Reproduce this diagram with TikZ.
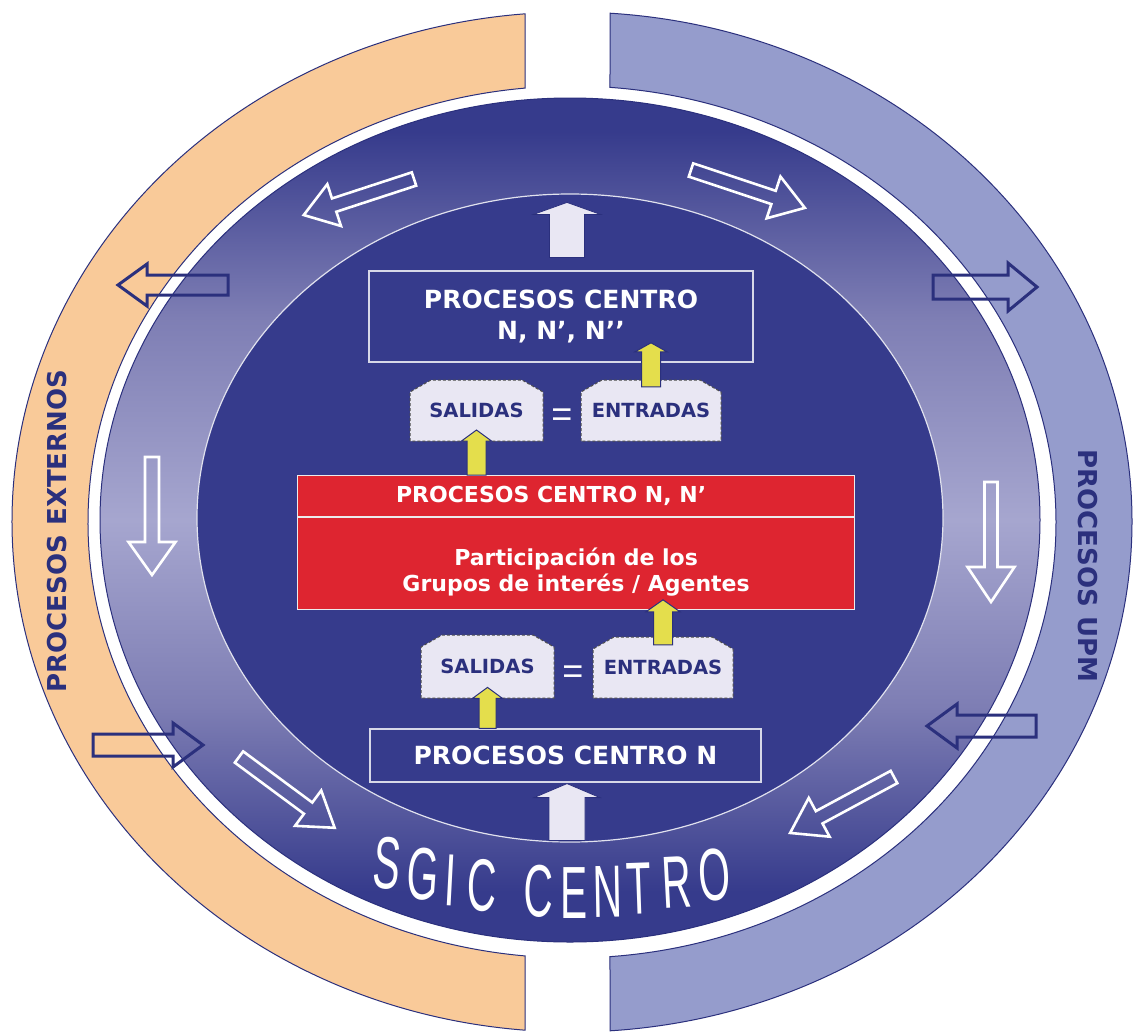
\documentclass[tikz,border=0pt]{standalone}
\usepackage{fontspec}
\setmainfont{DejaVu Sans}
\newfontfamily\sgicfont[FakeStretch=0.55]{Liberation Sans}
\newfontfamily\eqfont{Liberation Sans}
\usepackage{tikz}
\usetikzlibrary{positioning,calc}
\usepackage{xcolor}
\definecolor{sgicblue}{RGB}{54,59,140}
\definecolor{sgicnavy}{RGB}{43,48,125}
\definecolor{sgicmid}{RGB}{126,126,180}
\definecolor{sgiclight}{RGB}{166,166,207}
\definecolor{extorange}{RGB}{249,202,153}
\definecolor{upmviolet}{RGB}{149,156,204}
\definecolor{sgicred}{RGB}{222,37,48}
\definecolor{sgiclav}{RGB}{233,231,243}
\definecolor{sgicyellow}{RGB}{228,222,76}
\pgfdeclareverticalshading{ringshade}{100bp}{color(0bp)=(sgicblue); color(28bp)=(sgicblue); color(39bp)=(sgicmid); color(50bp)=(sgiclight); color(62bp)=(sgicmid); color(73bp)=(sgicblue); color(100bp)=(sgicblue)}
\tikzstyle{band} = [draw=sgicnavy, line width=1pt]
\tikzstyle{whitearrow} = [draw=white, line width=2.6pt]
\tikzstyle{navyarrow} = [draw=sgicnavy, line width=3pt]
\tikzstyle{lavarrow} = [fill=sgiclav, draw=sgicnavy, line width=0.8pt]
\tikzstyle{yelarrow} = [fill=sgicyellow, draw=sgicnavy, line width=1pt]
\tikzstyle{procbox} = [draw=white!80!sgicblue, line width=1.2pt, fill=sgicblue, text=white, font=\bfseries\fontsize{25}{31}\selectfont, align=center, inner sep=0pt]
\tikzstyle{redbox} = [draw=white!85!gray, line width=1.2pt, fill=sgicred, inner sep=0pt]
\tikzstyle{redtext} = [text=white, font=\bfseries\fontsize{22}{26}\selectfont, align=center, inner sep=0pt]
\tikzstyle{iooutline} = [fill=sgiclav, draw=gray!60!black, dash pattern=on 3pt off 2pt, line width=1pt]
\tikzstyle{iotext} = [text=sgicnavy, font=\bfseries\fontsize{19.5}{22}\selectfont, inner sep=0pt]
\tikzstyle{eqsign} = [text=white, font=\eqfont\fontsize{36}{36}\selectfont, inner sep=0pt]
\tikzstyle{sidelabel} = [text=sgicnavy, font=\bfseries\fontsize{26}{30}\selectfont, inner sep=0pt]
\tikzstyle{sgicletter} = [text=white, font=\sgicfont\fontsize{74}{74}\selectfont, inner sep=0pt, anchor=base]
% block arrow: style, tail, angle, length, half shaft, half head, head length
\newcommand{\blockarrow}[7]{%
  \draw[#1, shift={#2}, rotate=#3] (0,-#5) -- ({#4-#7},-#5) -- ({#4-#7},-#6) -- (#4,0)
    -- ({#4-#7},#6) -- ({#4-#7},#5) -- (0,#5) -- cycle;}
% house shaped box: x, y, width, height, name, text
\newcommand{\ioshape}[6]{%
  \draw[iooutline] ({#1-#3/2},{#2+#4/2}) -- ({#1-#3/2},{#2-#4/2+12}) -- ({#1-#3/2+21},{#2-#4/2})
    -- ({#1+#3/2-21},{#2-#4/2}) -- ({#1+#3/2},{#2-#4/2+12}) -- ({#1+#3/2},{#2+#4/2}) -- cycle;
  \node[iotext, minimum width=#3pt, minimum height=#4pt] (#5) at (#1,#2) {#6};}

\begin{document}
\begin{tikzpicture}[x=1pt, y=-1pt]
\fill[white] (0,0) rectangle (1136,1034);
\useasboundingbox (0,0) rectangle (1136,1034);

% Outer bands
\draw[band, fill=extorange] ([shift={(572,522)}]265.2:560 and 510)
  arc[start angle=265.2, end angle=94.8, x radius=560, y radius=510]
  -- ([shift={(572,522)}]95.57:484 and 436)
  arc[start angle=95.57, end angle=264.43, x radius=484, y radius=436] -- cycle;
\draw[band, fill=upmviolet] ([shift={(572,522)}]-86.1:560 and 510)
  arc[start angle=-86.1, end angle=86.1, x radius=560, y radius=510]
  -- ([shift={(572,522)}]85.5:484 and 436)
  arc[start angle=85.5, end angle=-85.5, x radius=484, y radius=436] -- cycle;

% Ring and centre
\shadedraw[shading=ringshade, draw=sgicnavy, line width=1pt] (570,520) ellipse [x radius=470, y radius=422];
\draw[draw=white!85!sgicblue, line width=1.2pt, fill=sgicblue] (570,518) ellipse [x radius=373, y radius=324];

% Arrows round the ring
\blockarrow{whitearrow}{(414,179)}{198.1}{116}{7}{22}{32}
\blockarrow{whitearrow}{(691,170)}{-18.4}{120}{7}{22}{33}
\blockarrow{whitearrow}{(152,457)}{-90}{118}{7}{23.5}{33}
\blockarrow{whitearrow}{(991,482)}{-90}{120}{6.5}{23.5}{35}
\blockarrow{whitearrow}{(239,757)}{-36.5}{119}{7}{22}{33}
\blockarrow{whitearrow}{(894,777)}{208.3}{118}{7}{22}{33}
\blockarrow{navyarrow}{(228,285)}{180}{110}{10}{21}{29}
\blockarrow{navyarrow}{(93,745)}{0}{110}{11}{22}{30}
\blockarrow{navyarrow}{(933,287)}{0}{104}{12}{24}{29}
\blockarrow{navyarrow}{(1036,726)}{180}{109}{11}{22}{30}

% Side labels
\node[sidelabel, rotate=90] (extlabel) at (57,531) {PROCESOS EXTERNOS};
\node[sidelabel, rotate=-90] (upmlabel) at (1088,566) {PROCESOS UPM};

% Boxes
\node[procbox, minimum width=384pt, minimum height=91pt] (topbox) at (561,316.5) {PROCESOS CENTRO\\N, N’, N’\kern0pt’};
\ioshape{476.5}{410.5}{133}{61}{sal1}{SALIDAS}
\ioshape{651}{410.5}{140}{61}{ent1}{ENTRADAS}
\node[eqsign] (eq1) at (562,418) {=};

\node[redbox, minimum width=557pt, minimum height=41pt, anchor=north west] (redtitle) at (297,475) {};
\node[redbox, minimum width=557pt, minimum height=92pt, anchor=north] (redbody) at (redtitle.south) {};
\node[redtext] (redtitletext) at ([xshift=-25pt]redtitle.center) {PROCESOS CENTRO N, N’};
\node[redtext] (redbodytext) at ([yshift=-8pt]redbody.center) {Participación de los\\Grupos de interés / Agentes};

\ioshape{487.5}{666.5}{133}{63}{sal2}{SALIDAS}
\ioshape{663}{667.5}{140}{61}{ent2}{ENTRADAS}
\node[eqsign] (eq2) at (573,675) {=};

\node[procbox, minimum width=391pt, minimum height=53pt] (botbox) at (565.5,755.5) {PROCESOS CENTRO N};

% Arrows between boxes
\blockarrow{yelarrow}{(sal1.center |- redtitle.north)}{90}{45}{9.5}{15}{11}
\blockarrow{yelarrow}{([yshift=-7pt]ent1.north)}{90}{44}{9.5}{16}{9}
\blockarrow{yelarrow}{([yshift=-8pt]ent2.north)}{90}{45}{9.5}{17}{12}
\blockarrow{yelarrow}{(sal2.center |- botbox.north)}{90}{41}{8.5}{15}{11}
\blockarrow{lavarrow}{([xshift=6pt,yshift=13pt]topbox.north)}{90}{55}{17.5}{33.5}{12}
\blockarrow{lavarrow}{([xshift=1.5pt,yshift=-58pt]botbox.south)}{90}{57}{18}{33}{14}

% Title, one letter at a time along the bottom
\foreach \ch/\lx/\ly/\rot [count=\i] in {S/385/889/-5, G/421/900/-4, I/449.5/906/-3, C/481/911/-2,
    C/538/917/-1, E/574.5/918/0, N/608/917/1, T/640/914/2, R/678/908/3, O/716.5/900/4}
  \node[sgicletter, rotate=\rot] (sgic\i) at (\lx,\ly) {\ch};
\end{tikzpicture}
\end{document}
